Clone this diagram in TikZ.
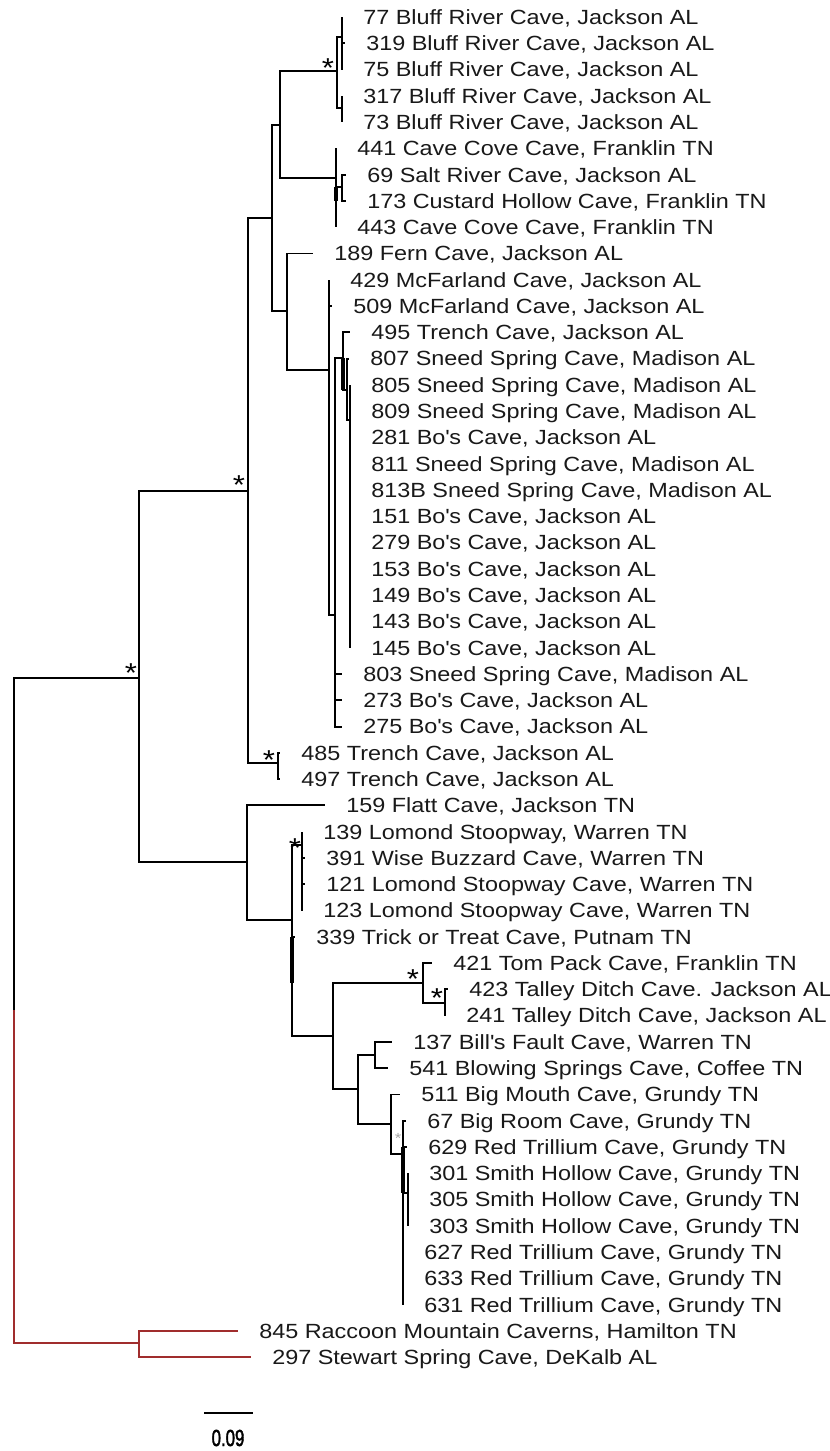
\documentclass[tikz,border=0pt]{standalone}
\usepackage{fontspec}
\setmainfont[FakeStretch=1.14]{Liberation Sans}
\newfontfamily\barfont[FakeStretch=0.72,FakeBold=1.6]{Liberation Sans}
\usepackage{xcolor}
\usepackage{tikz}
\definecolor{outred}{RGB}{160,45,45}
\newcommand{\apos}{\textquotesingle}

\begin{document}
\begin{tikzpicture}[
  x=0.75pt, y=-0.75pt,
  every node/.style={font=\fontsize{15.4}{18}\selectfont, inner sep=0pt},
  taxon/.style={anchor=base west, xshift=15.75pt, yshift=-5.5pt, text=black!90},
  boot/.style={font=\fontsize{20.5}{22}\selectfont, anchor=base, yshift=-11.6pt},
  weakboot/.style={font=\fontsize{11}{12}\selectfont, anchor=base, yshift=-6.3pt, text=black!35},
  branch/.style={line width=1.4pt},
  outbranch/.style={branch, draw=outred},
  blob/.style={line width=2.6pt}
]
\fill[white] (0,0) rectangle (830,1451);
\useasboundingbox (0,0) rectangle (830,1451);

\path (342,17.0) coordinate (c77) node[taxon] (t77) {77 Bluff River Cave, Jackson AL};
\path (345,43.3) coordinate (c319) node[taxon] (t319) {319 Bluff River Cave, Jackson AL};
\path (342,69.6) coordinate (c75) node[taxon] (t75) {75 Bluff River Cave, Jackson AL};
\path (342,95.8) coordinate (c317) node[taxon] (t317) {317 Bluff River Cave, Jackson AL};
\path (342,122.1) coordinate (c73) node[taxon] (t73) {73 Bluff River Cave, Jackson AL};
\path (336,148.4) coordinate (c441) node[taxon] (t441) {441 Cave Cove Cave, Franklin TN};
\path (346,174.7) coordinate (c69) node[taxon] (t69) {69 Salt River Cave, Jackson AL};
\path (346,201.0) coordinate (c173) node[taxon] (t173) {173 Custard Hollow Cave, Franklin TN};
\path (336,227.2) coordinate (c443) node[taxon] (t443) {443 Cave Cove Cave, Franklin TN};
\path (313,253.5) coordinate (c189) node[taxon] (t189) {189 Fern Cave, Jackson AL};
\path (329,279.8) coordinate (c429) node[taxon] (t429) {429 McFarland Cave, Jackson AL};
\path (332,306.1) coordinate (c509) node[taxon] (t509) {509 McFarland Cave, Jackson AL};
\path (350,332.4) coordinate (c495) node[taxon] (t495) {495 Trench Cave, Jackson AL};
\path (349,358.6) coordinate (c807) node[taxon] (t807) {807 Sneed Spring Cave, Madison AL};
\path (350,384.9) coordinate (c805) node[taxon] (t805) {805 Sneed Spring Cave, Madison AL};
\path (350,411.2) coordinate (c809) node[taxon] (t809) {809 Sneed Spring Cave, Madison AL};
\path (350,437.5) coordinate (c281) node[taxon] (t281) {281 Bo\apos s Cave, Jackson AL};
\path (350,463.8) coordinate (c811) node[taxon] (t811) {811 Sneed Spring Cave, Madison AL};
\path (350,490.0) coordinate (c813) node[taxon] (t813) {813B Sneed Spring Cave, Madison AL};
\path (350,516.3) coordinate (c151) node[taxon] (t151) {151 Bo\apos s Cave, Jackson AL};
\path (350,542.6) coordinate (c279) node[taxon] (t279) {279 Bo\apos s Cave, Jackson AL};
\path (350,568.9) coordinate (c153) node[taxon] (t153) {153 Bo\apos s Cave, Jackson AL};
\path (350,595.2) coordinate (c149) node[taxon] (t149) {149 Bo\apos s Cave, Jackson AL};
\path (350,621.4) coordinate (c143) node[taxon] (t143) {143 Bo\apos s Cave, Jackson AL};
\path (350,647.7) coordinate (c145) node[taxon] (t145) {145 Bo\apos s Cave, Jackson AL};
\path (342,674.0) coordinate (c803) node[taxon] (t803) {803 Sneed Spring Cave, Madison AL};
\path (342,700.3) coordinate (c273) node[taxon] (t273) {273 Bo\apos s Cave, Jackson AL};
\path (342,726.6) coordinate (c275) node[taxon] (t275) {275 Bo\apos s Cave, Jackson AL};
\path (280,752.8) coordinate (c485) node[taxon] (t485) {485 Trench Cave, Jackson AL};
\path (280,779.1) coordinate (c497) node[taxon] (t497) {497 Trench Cave, Jackson AL};
\path (325,805.4) coordinate (c159) node[taxon] (t159) {159 Flatt Cave, Jackson TN};
\path (302,831.7) coordinate (c139) node[taxon] (t139) {139 Lomond Stoopway, Warren TN};
\path (305,858.0) coordinate (c391) node[taxon] (t391) {391 Wise Buzzard Cave, Warren TN};
\path (305,884.2) coordinate (c121) node[taxon] (t121) {121 Lomond Stoopway Cave, Warren TN};
\path (302,910.5) coordinate (c123) node[taxon] (t123) {123 Lomond Stoopway Cave, Warren TN};
\path (295,936.8) coordinate (c339) node[taxon] (t339) {339 Trick or Treat Cave, Putnam TN};
\path (432,963.1) coordinate (c421) node[taxon] (t421) {421 Tom Pack Cave, Franklin TN};
\path (448,989.4) coordinate (c423) node[taxon] (t423) {423 Talley Ditch Cave. Jackson AL};
\path (445,1015.6) coordinate (c241) node[taxon] (t241) {241 Talley Ditch Cave, Jackson AL};
\path (392,1041.9) coordinate (c137) node[taxon] (t137) {137 Bill\apos s Fault Cave, Warren TN};
\path (388,1068.2) coordinate (c541) node[taxon] (t541) {541 Blowing Springs Cave, Coffee TN};
\path (400,1094.5) coordinate (c511) node[taxon] (t511) {511 Big Mouth Cave, Grundy TN};
\path (406,1120.8) coordinate (c67) node[taxon] (t67) {67 Big Room Cave, Grundy TN};
\path (407,1147.0) coordinate (c629) node[taxon] (t629) {629 Red Trillium Cave, Grundy TN};
\path (408,1173.3) coordinate (c301) node[taxon] (t301) {301 Smith Hollow Cave, Grundy TN};
\path (408,1199.6) coordinate (c305) node[taxon] (t305) {305 Smith Hollow Cave, Grundy TN};
\path (408,1225.9) coordinate (c303) node[taxon] (t303) {303 Smith Hollow Cave, Grundy TN};
\path (403,1252.2) coordinate (c627) node[taxon] (t627) {627 Red Trillium Cave, Grundy TN};
\path (403,1278.4) coordinate (c633) node[taxon] (t633) {633 Red Trillium Cave, Grundy TN};
\path (403,1304.7) coordinate (c631) node[taxon] (t631) {631 Red Trillium Cave, Grundy TN};
\path (238,1331.0) coordinate (c845) node[taxon] (t845) {845 Raccoon Mountain Caverns, Hamilton TN};
\path (251,1357.3) coordinate (c297) node[taxon] (t297) {297 Stewart Spring Cave, DeKalb AL};

\coordinate (nRoot) at (14,1010);
\coordinate (nIn) at (139,678);
\coordinate (nA) at (248,491);
\coordinate (nB) at (272,218);
\coordinate (nC) at (280,125);
\coordinate (nBl) at (337,71);
\coordinate (nBl1) at (342,37);
\coordinate (nBl2) at (342,108);
\coordinate (nCv) at (336,178);
\coordinate (nSr) at (342,187);
\coordinate (nD) at (287,311);
\coordinate (nE) at (329,370);
\coordinate (nF) at (335,615);
\coordinate (nG) at (343,358);
\coordinate (nH) at (347,390);
\coordinate (nH2) at (350,420);
\coordinate (nTr) at (278,763);
\coordinate (nL) at (247,862);
\coordinate (nM) at (292,920);
\coordinate (nN) at (302,845);
\coordinate (nO) at (333,1036);
\coordinate (nP) at (423,983);
\coordinate (nR) at (445,1003);
\coordinate (nQ) at (358,1089);
\coordinate (nS) at (375,1055);
\coordinate (nT) at (391,1124);
\coordinate (nU) at (403,1154);
\coordinate (nV) at (408,1193);
\coordinate (nOut) at (139,1343);

\draw[branch] (nRoot) |- (nIn);
\draw[branch] (nIn) |- (nA);
\draw[branch] (nIn) |- (nL);
\draw[branch] (nA) |- (nB);
\draw[branch] (nA) |- (nTr);
\draw[branch] (nB) |- (nC);
\draw[branch] (nB) |- (nD);
\draw[branch] (nC) |- (nBl);
\draw[branch] (nC) |- (nCv);
\draw[branch] (nBl) |- (nBl1);
\draw[branch] (nBl) |- (nBl2);
\draw[branch] (nBl1) |- (c77);
\draw[branch] (nBl1) |- (c319);
\draw[branch] (nBl1) |- (c75);
\draw[branch] (nBl2) |- (c317);
\draw[branch] (nBl2) |- (c73);
\draw[branch] (nCv) |- (c441);
\draw[branch] (nCv) |- (nSr);
\draw[branch] (nCv) |- (c443);
\draw[branch] (nSr) |- (c69);
\draw[branch] (nSr) |- (c173);
\draw[blob] (nCv |- nSr) -- (nCv |- c173);
\draw[branch] (nD) |- (c189);
\draw[branch] (nD) |- (nE);
\draw[branch] (nE) |- (c429);
\draw[branch] (nE) |- (c509);
\draw[branch] (nE) |- (nF);
\draw[branch] (nF) |- (nG);
\draw[branch] (nF) |- (c803);
\draw[branch] (nF) |- (c273);
\draw[branch] (nF) |- (c275);
\draw[branch] (nG) |- (c495);
\draw[branch] (nG) |- (nH);
\draw[blob] (nG) -- (nG |- nH);
\draw[branch] (nH) |- (c807);
\draw[branch] (nH) |- (nH2);
\foreach \t in {805,809,281,811,813,151,279,153,149,143,145}
  \draw[branch] (nH2) |- (c\t);
\draw[branch] (nTr) |- (c485);
\draw[branch] (nTr) |- (c497);
\draw[branch] (nL) |- (c159);
\draw[branch] (nL) |- (nM);
\draw[branch] (nM) |- (nN);
\draw[branch] (nM) |- (c339);
\draw[branch] (nM) |- (nO);
\draw[blob] (nM |- c339) -- (nM |- nP);
\draw[branch] (nN) |- (c139);
\draw[branch] (nN) |- (c391);
\draw[branch] (nN) |- (c121);
\draw[branch] (nN) |- (c123);
\draw[branch] (nO) |- (nP);
\draw[branch] (nO) |- (nQ);
\draw[branch] (nP) |- (c421);
\draw[branch] (nP) |- (nR);
\draw[branch] (nR) |- (c423);
\draw[branch] (nR) |- (c241);
\draw[branch] (nQ) |- (nS);
\draw[branch] (nQ) |- (nT);
\draw[branch] (nS) |- (c137);
\draw[branch] (nS) |- (c541);
\draw[branch] (nT) |- (c511);
\draw[branch] (nT) |- (nU);
\draw[branch] (nU) |- (c67);
\draw[branch] (nU) |- (c629);
\draw[branch] (nU) |- (nV);
\draw[branch] (nU) |- (c627);
\draw[branch] (nU) |- (c633);
\draw[branch] (nU) |- (c631);
\draw[blob] (nU |- c629) -- (nU |- nV);
\draw[branch] (nV) |- (c301);
\draw[branch] (nV) |- (c305);
\draw[branch] (nV) |- (c303);
\draw[outbranch] (nRoot) |- (nOut);
\draw[outbranch] (nOut) |- (c845);
\draw[outbranch] (nOut) |- (c297);

\node[boot] (sIn) at (131,667) {*};
\node[boot] (sA) at (239,479) {*};
\node[boot] (sBl) at (328,62) {*};
\node[boot] (sTr) at (269,754) {*};
\node[boot] (sN) at (295,842) {*};
\node[boot] (sP) at (413,973) {*};
\node[boot] (sR) at (437,992) {*};
\node[weakboot] (sU) at (398,1135) {*};

\coordinate (bar0) at (204,1413);
\coordinate (bar1) at (253,1413);
\draw[branch] (bar0) -- (bar1);
\node[font=\barfont\fontsize{17.5}{18}\selectfont] (barlab) at (228,1438) {0.09};
\end{tikzpicture}
\end{document}
